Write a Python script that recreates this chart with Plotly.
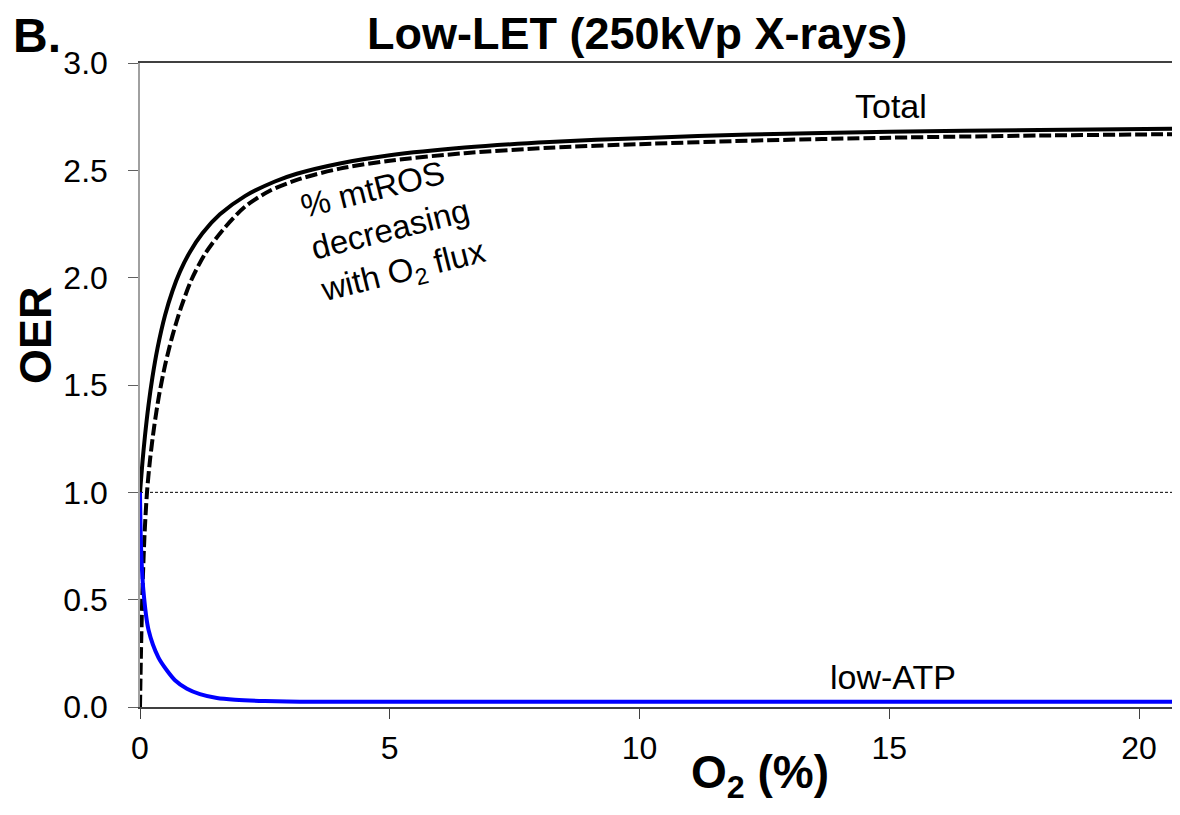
import plotly.graph_objects as go

# O2 (%) vs OER
total_x = [0, 0.05, 0.1, 0.17, 0.25, 0.35, 0.5, 0.65, 0.8, 1.0, 1.25, 1.6, 2.1, 2.7, 3.14, 4, 5, 6.5, 8.2, 10, 12.2, 15, 18, 20.82]
total_y = [1.0, 1.143, 1.264, 1.406, 1.538, 1.671, 1.824, 1.938, 2.028, 2.12, 2.207, 2.295, 2.38, 2.448, 2.484, 2.532, 2.57, 2.606, 2.632, 2.65, 2.667, 2.68, 2.688, 2.694]

mtros_x = [0, 0.02, 0.05, 0.09, 0.14, 0.2, 0.28, 0.38, 0.5, 0.65, 0.82, 1.03, 1.3, 1.65, 2.1, 2.6, 3.2, 4, 5, 6.5, 8.2, 10, 12.2, 15, 18, 20.82]
mtros_y = [0, 0.26, 0.55, 0.8, 1.0, 1.15, 1.3, 1.45, 1.59, 1.73, 1.86, 1.99, 2.11, 2.22, 2.33, 2.405, 2.46, 2.508, 2.545, 2.58, 2.605, 2.622, 2.638, 2.652, 2.662, 2.669]

atp_x = [0, 0.02, 0.067, 0.17, 0.37, 0.54, 0.7, 0.94, 1.2, 1.54, 1.9, 2.5, 3.2, 5, 10, 15, 20.82]
atp_y = [1.0, 0.75, 0.545, 0.36, 0.23, 0.17, 0.125, 0.085, 0.06, 0.042, 0.034, 0.028, 0.025, 0.024, 0.024, 0.024, 0.024]

x_ticks = [0, 5, 10, 15, 20]
y_ticks = [0, 0.5, 1.0, 1.5, 2.0, 2.5, 3.0]

FONT = "Arial, 'Liberation Sans', sans-serif"

# page has an 8px body margin, so the figure is a little smaller than the window
W, H = 1164, 799
ML, MR, MT, MB = 132, 0, 55, 100
PW, PH = W - ML - MR, H - MT - MB
UNIT = 49.95  # px per 1 % O2 in the reference
XMAX = PW / UNIT


def px(page_x):
    return (page_x - 8 - ML) / PW


def py(page_y):
    return (H - MB + 8 - page_y) / PH


fig = go.Figure()
fig.add_trace(go.Scatter(x=mtros_x, y=mtros_y, mode="lines",
                         line=dict(color="black", width=4, dash="12px,4px", shape="spline", smoothing=0.8),
                         showlegend=False, hoverinfo="skip"))
fig.add_trace(go.Scatter(x=total_x, y=total_y, mode="lines",
                         line=dict(color="black", width=4, shape="spline", smoothing=0.8),
                         showlegend=False, hoverinfo="skip"))
fig.add_trace(go.Scatter(x=atp_x, y=atp_y, mode="lines",
                         line=dict(color="#0000ff", width=4, shape="spline", smoothing=0.8),
                         showlegend=False, hoverinfo="skip"))

fig.add_shape(type="line", xref="paper", yref="y", x0=0, x1=1, y0=1.0, y1=1.0,
              line=dict(color="black", width=1, dash="3px,2px"), layer="below")

ann = [
    dict(text="<b>Low-LET (250kVp X-rays)</b>", x=px(637), y=py(33), size=45),
    dict(text="<b>B.</b>", x=px(11), y=py(35), size=48, xanchor="left"),
    dict(text="<b>OER</b>", x=px(35), y=py(335), size=45, textangle=-90),
    dict(text="<b>O<sub>2</sub> (%)</b>", x=px(760), y=py(807), size=46, yanchor="bottom"),
    dict(text="Total", x=px(891), y=py(106), size=34),
    dict(text="low-ATP", x=px(893), y=py(677), size=34),
    dict(text="% mtROS<br>decreasing<br>with O<sub>2</sub> flux", x=px(393), y=py(231), size=33,
         textangle=-14, align="left"),
]
for a in ann:
    fig.add_annotation(xref="paper", yref="paper", x=a["x"], y=a["y"], text=a["text"],
                       showarrow=False, xanchor=a.get("xanchor", "center"), yanchor=a.get("yanchor", "middle"),
                       textangle=a.get("textangle", 0), align=a.get("align", "center"),
                       font=dict(family=FONT, size=a["size"], color="black"))

fig.update_layout(
    width=W, height=H,
    margin=dict(l=ML, r=MR, t=MT, b=MB, pad=0),
    paper_bgcolor="white", plot_bgcolor="white",
    showlegend=False,
    font=dict(family=FONT, color="black"),
    xaxis=dict(range=[0, XMAX], tickvals=x_ticks, ticktext=[str(v) for v in x_ticks],
               ticks="outside", ticklen=10, tickwidth=1, tickcolor="#404040",
               showline=True, linecolor="#404040", linewidth=1.5, mirror=True,
               showgrid=False, zeroline=False, ticklabelstandoff=2,
               tickfont=dict(family=FONT, size=32, color="black")),
    yaxis=dict(range=[0, 3.0], tickvals=y_ticks, ticktext=[f"{v:.1f}" for v in y_ticks],
               ticks="outside", ticklen=10, tickwidth=1, tickcolor="#606060",
               showline=True, linecolor="#a0a0a0", linewidth=1.5,
               showgrid=False, zeroline=False, ticklabelstandoff=14,
               tickfont=dict(family=FONT, size=32, color="black")),
)

fig.write_html("out.html")
